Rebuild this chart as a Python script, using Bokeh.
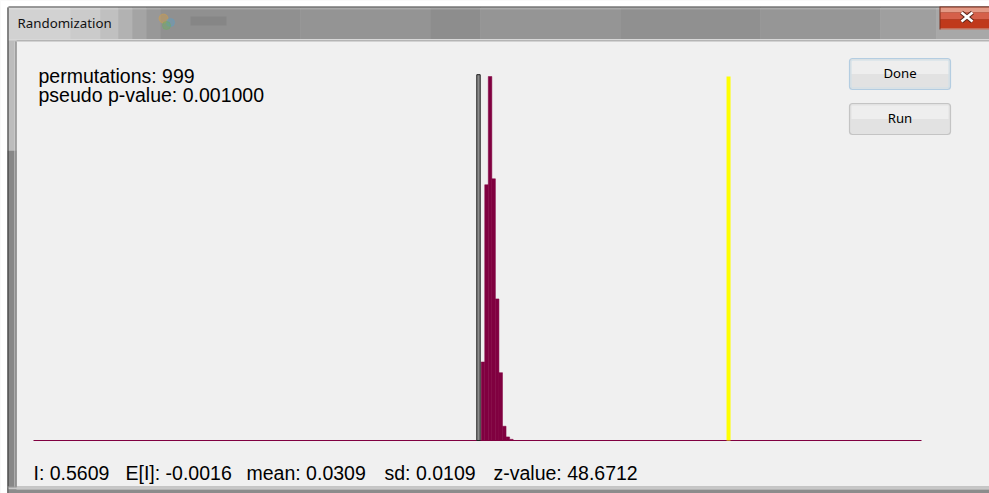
from bokeh.plotting import figure
from bokeh.models import Range1d, Label, BoxAnnotation
from bokeh.embed import file_html
from bokeh.resources import INLINE

# ---------------- data ----------------
bin_edges = [0.0083, 0.0163, 0.0243, 0.0323, 0.0403, 0.0483, 0.0563, 0.0643, 0.0723, 0.0803]
bin_counts = [66, 215, 306, 220, 119, 57, 12, 3, 1]
observed_I = 0.5609
expected_I = -0.0016
x_limits = [-1.0, 1.0]
permutations = 999
pseudo_p = "0.001000"
stat_names = ["I", "E[I]", "mean", "sd", "z-value"]
stat_values = ["0.5609", "-0.0016", "0.0309", "0.0109", "48.6712"]
window_title = "Randomization"
button_labels = ["Done", "Run"]

# ---------------- layout / style ----------------
W, H = 989, 493
PX_PER_UNIT = 444.0        # pixels per unit of Moran's I
X_ZERO_PX = 477.0          # page x of value 0
BASE_PX = 440.0            # page y of count 0
PX_PER_COUNT = 364.0 / max(bin_counts)
MARKER_PX = 4.0

x0 = (0 - X_ZERO_PX) / PX_PER_UNIT
x1 = (W - X_ZERO_PX) / PX_PER_UNIT
y0 = -(H - BASE_PX) / PX_PER_COUNT
y1 = BASE_PX / PX_PER_COUNT

p = figure(width=W, height=H, x_range=Range1d(x0, x1), y_range=Range1d(y0, y1),
           x_axis_type=None, y_axis_type=None, toolbar_location=None,
           output_backend="svg", min_border=0, outline_line_color=None,
           background_fill_color="#f0f0f0", border_fill_color="#f0f0f0")
p.extra_x_ranges = {"px": Range1d(0, W)}
p.extra_y_ranges = {"px": Range1d(H, 0)}


def box(l, r, t, b, color, alpha=1.0, edge=True):
    p.quad(left=[l], right=[r], top=[t], bottom=[b], fill_color=color,
           fill_alpha=alpha, line_color=color if edge else None, line_alpha=alpha,
           line_width=0.6, x_range_name="px", y_range_name="px")


# ---------------- window chrome ----------------
box(0, W, 6, 0, "#ffffff", edge=False)
box(0, 7, H, 0, "#ffffff", edge=False)
# title bar strips
title_strips = [(7, 70, "#d2d2d2"), (70, 100, "#cbcbcb"), (100, 118, "#c0c0c0"),
                (118, 132, "#b2b2b2"), (132, 146, "#a4a4a4"), (146, 160, "#989898"),
                (160, 300, "#909090"), (300, 430, "#949494"), (430, 480, "#8d8d8d"),
                (480, 620, "#959595"), (620, 760, "#909090"), (760, 880, "#969696"),
                (880, 936, "#9f9f9f"), (936, W, "#a8a8a8")]
for a, b, c in title_strips:
    box(a, b, 40, 7, c)
box(8, W, 7, 6, "#3c3c3c", edge=False)
box(8, W, 9, 7, "#ffffff", 0.2, edge=False)
box(8, W, 39.5, 38.5, "#d8d8d8", edge=False)
box(16, W, 41, 39.5, "#b4b4b4", edge=False)
# blurred icon / caption of a window behind
p.scatter(x=[163, 170, 166], y=[18, 22, 25], size=[9, 8, 8],
          color=["#d9a040", "#5aa0c8", "#6ab060"], alpha=0.4,
          x_range_name="px", y_range_name="px")
box(190, 226, 25, 16, "#707070", 0.3, edge=False)

# close button
box(939, W, 29, 6, "#7a2a18", edge=False)
box(940, W, 12, 7, "#e39a86", edge=False)
box(940, W, 19, 12, "#d5604a", edge=False)
box(940, W, 28, 19, "#c0391b", edge=False)
box(940, W, 29, 28, "#e6b0a0", edge=False)
p.segment(x0=[961, 961], y0=[12, 21], x1=[972, 972], y1=[21, 12],
          line_color="#5a2418", line_width=4.5, x_range_name="px", y_range_name="px")
p.segment(x0=[961, 961], y0=[12, 21], x1=[972, 972], y1=[21, 12],
          line_color="#ffffff", line_width=2.6, x_range_name="px", y_range_name="px")

# left frame
box(7, 16, 150, 40, "#bcbcbc", edge=False)
box(7, 16, H, 150, "#878787", edge=False)
box(7, 8, H, 7, "#303030", edge=False)
box(14, 15, 487, 41, "#d4d4d4", edge=False)
box(15, 16, 487, 41, "#767676", edge=False)
# bottom frame
box(7, W, 487, 486, "#9a9a9a", edge=False)
box(8, W, 489, 487, "#c8c8c8", edge=False)
box(8, W, H, 489, "#8c8c8c", edge=False)

# buttons
for (top, bot, border, glow), lab in zip([(58, 89, "#3c8fd0", "#a9dcf6"),
                                          (103, 134, "#707070", None)], button_labels):
    p.add_layout(BoxAnnotation(left=849, right=950, top=top, bottom=bot,
                               x_range_name="px", y_range_name="px",
                               fill_color="#e2e2e2", fill_alpha=1,
                               line_color=border, line_width=1.2, border_radius=3,
                               level="underlay"))
    p.add_layout(BoxAnnotation(left=851, right=948, top=top + 2, bottom=(top + bot) / 2,
                               x_range_name="px", y_range_name="px",
                               fill_color="#eeeeee", fill_alpha=1, line_color=None,
                               level="underlay"))
    if glow:
        p.add_layout(BoxAnnotation(left=850.5, right=948.5, top=top + 1.5, bottom=bot - 1.5,
                                   x_range_name="px", y_range_name="px",
                                   fill_alpha=0, line_color=glow, line_width=1,
                                   border_radius=2, level="underlay"))
    p.add_layout(Label(x=899.5, y=bot - 17, text=lab, text_align="center",
                       text_baseline="alphabetic", text_font="Noto Sans",
                       text_font_size="13.2px", text_color="#000000",
                       x_range_name="px", y_range_name="px"))

# window title
p.add_layout(Label(x=17, y=22.5, text=window_title, text_font="Noto Sans",
                   text_font_size="13.3px", text_color="#111111",
                   text_baseline="alphabetic", x_range_name="px", y_range_name="px"))

# ---------------- histogram ----------------
p.line(x=x_limits, y=[0, 0], line_color="#800040", line_width=1.2)
p.quad(left=bin_edges[:-1], right=bin_edges[1:], bottom=0, top=bin_counts,
       fill_color="#800040", line_color="#800040", line_width=0.5)
marker_w = MARKER_PX / PX_PER_UNIT
p.quad(left=[expected_I], right=[expected_I + marker_w * 0.85], bottom=[0],
       top=[max(bin_counts) * 1.005], fill_color="#8c8c8c", line_color="#1e1e1e",
       line_width=1)
p.quad(left=[observed_I], right=[observed_I + marker_w], bottom=[0],
       top=[max(bin_counts)], fill_color="#ffff00", line_color=None)

# ---------------- texts ----------------
FONT = "Liberation Sans"
FS = "19.5px"
p.add_layout(Label(x=38, y=75, text=f"permutations: {permutations}", text_font=FONT,
                   text_font_size=FS, text_baseline="alphabetic", text_color="#000000",
                   x_range_name="px", y_range_name="px"))
p.add_layout(Label(x=38, y=94, text=f"pseudo p-value: {pseudo_p}", text_font=FONT,
                   text_font_size=FS, text_baseline="alphabetic", text_color="#000000",
                   x_range_name="px", y_range_name="px"))
stat_x = [33, 125, 246, 384, 493]
for sx, n, v in zip(stat_x, stat_names, stat_values):
    p.add_layout(Label(x=sx, y=472.5, text=f"{n}: {v}", text_font=FONT,
                       text_font_size=FS, text_baseline="alphabetic", text_color="#000000",
                       x_range_name="px", y_range_name="px"))

open("out.html", "w").write(file_html(p, INLINE))
